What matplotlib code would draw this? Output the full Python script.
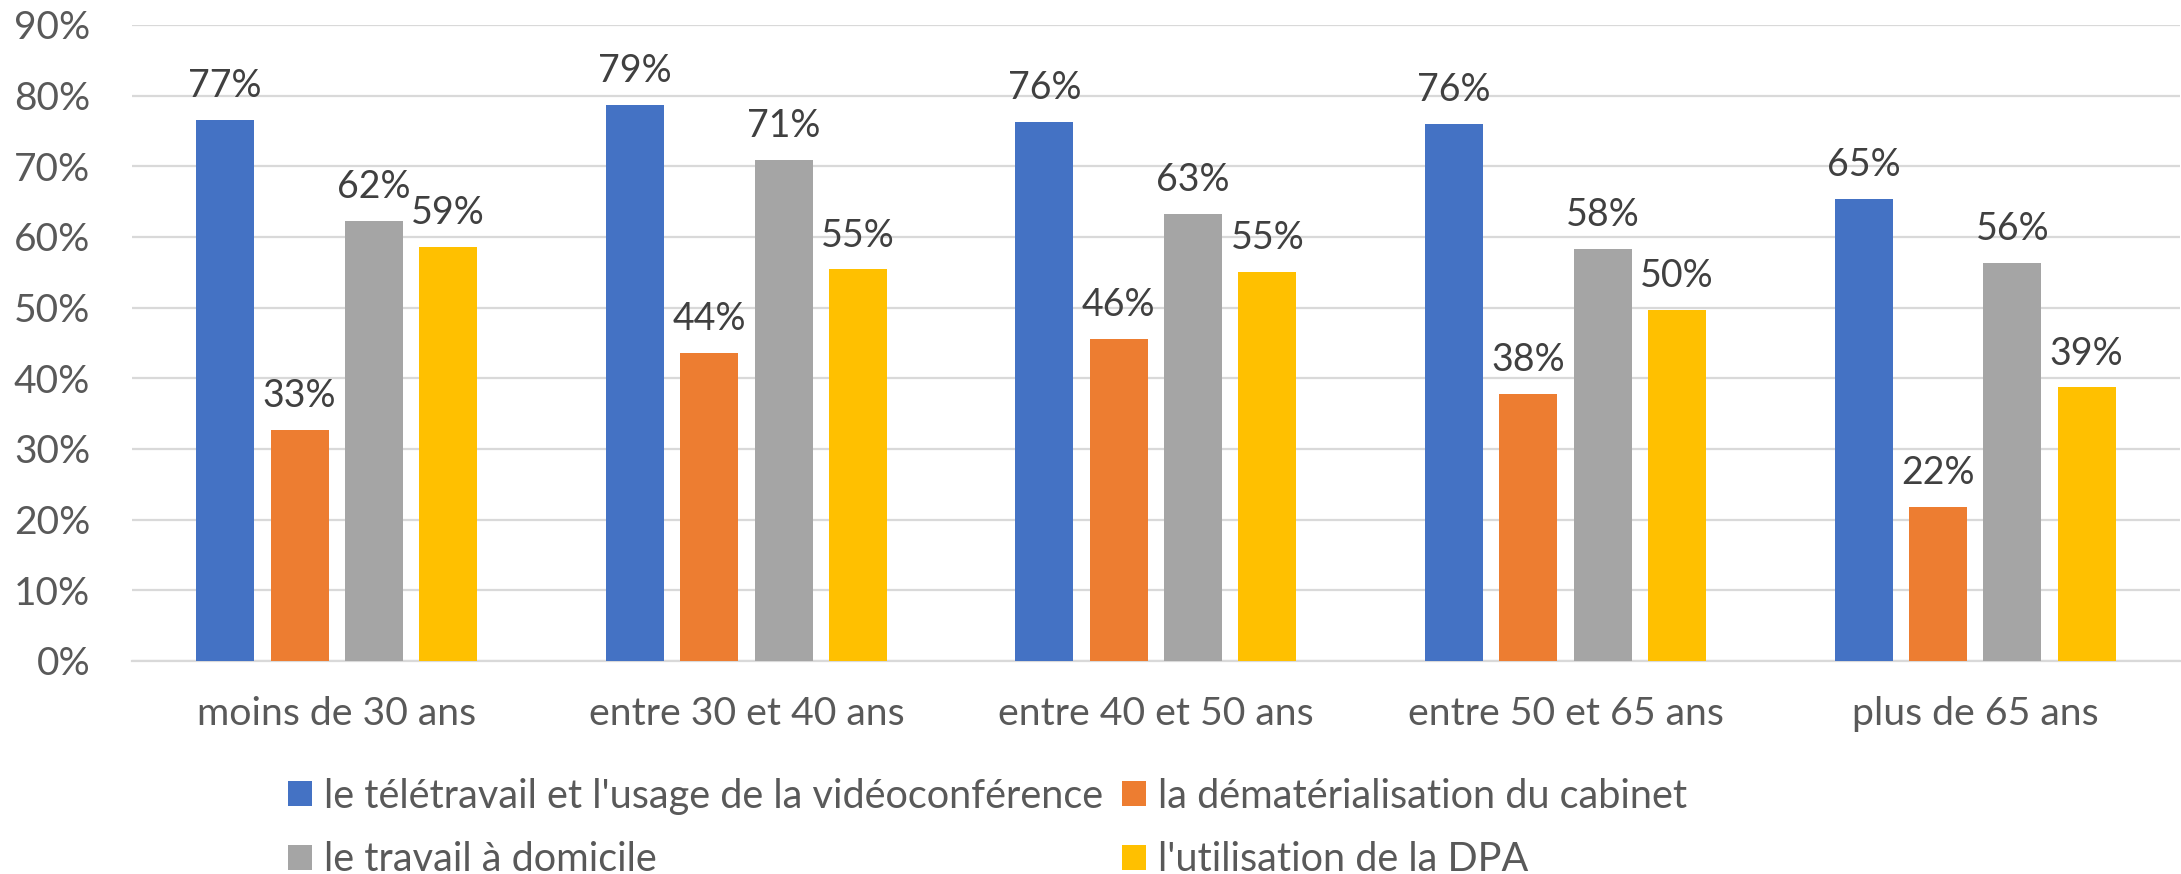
import matplotlib
matplotlib.use("Agg")
import matplotlib.pyplot as plt
import numpy as np

# Age groups and the share of respondents citing each change (%)
categories = ["moins de 30 ans", "entre 30 et 40 ans", "entre 40 et 50 ans",
              "entre 50 et 65 ans", "plus de 65 ans"]
series_names = ["le télétravail et l'usage de la vidéoconférence",
                "la dématérialisation du cabinet",
                "le travail à domicile",
                "l'utilisation de la DPA"]
teletravail = [76.6, 78.7, 76.3, 76.0, 65.4]
dematerialisation = [32.7, 43.6, 45.6, 37.8, 21.8]
domicile = [62.3, 70.9, 63.2, 58.3, 56.3]
dpa = [58.6, 55.4, 55.0, 49.7, 38.7]
y_ticks = [0, 10, 20, 30, 40, 50, 60, 70, 80, 90]

series = [teletravail, dematerialisation, domicile, dpa]
colors = ["#4472C4", "#ED7D31", "#A5A5A5", "#FFC000"]

plt.rcParams["font.family"] = ["Lato", "DejaVu Sans"]

fig = plt.figure(figsize=(21.81, 8.74), dpi=100)
ax = fig.add_axes([0.0605, 0.2439, 0.939, 0.7275])

x = np.arange(len(categories))
bar_w = 0.1416
pitch = 0.1815
handles = []
for i, (vals, col) in enumerate(zip(series, colors)):
    pos = x + (i - 1.5) * pitch
    bars = ax.bar(pos, vals, width=bar_w, color=col, zorder=3,
                  label=series_names[i])
    handles.append(bars)
    for xp, v in zip(pos, vals):
        ax.annotate(f"{v:.0f}%", (xp, v), xytext=(0, 16.5),
                    textcoords="offset points", ha="center", va="baseline",
                    fontsize=27, color="#404040")

ax.set_xlim(-0.5, len(categories) - 0.5)
ax.set_ylim(0, 90)
ax.set_yticks(y_ticks)
ax.set_yticklabels([f"{t}%" for t in y_ticks])
ax.set_xticks(x)
ax.set_xticklabels(categories)
ax.tick_params(axis="y", length=0, pad=30, labelsize=28, labelcolor="#595959")
ax.tick_params(axis="x", length=0, pad=25, labelsize=28.3, labelcolor="#595959")
ax.grid(axis="y", color="#D9D9D9", linewidth=1.6, zorder=0)
for side in ["top", "right", "left"]:
    ax.spines[side].set_visible(False)
ax.spines["bottom"].set_color("#D9D9D9")
ax.spines["bottom"].set_linewidth(1.6)

# legend laid out row by row in two columns
order = [0, 2, 1, 3]
leg = fig.legend([handles[k] for k in order], [series_names[k] for k in order],
                 ncol=2, loc="upper left", bbox_to_anchor=(0.132, 0.11),
                 frameon=False, fontsize=28.5, labelcolor="#595959",
                 handlelength=0.6, handleheight=0.6, handletextpad=0.3,
                 columnspacing=0.5, labelspacing=0.67, borderaxespad=0,
                 borderpad=0)

fig.savefig("out.png", dpi=100, facecolor="white")
